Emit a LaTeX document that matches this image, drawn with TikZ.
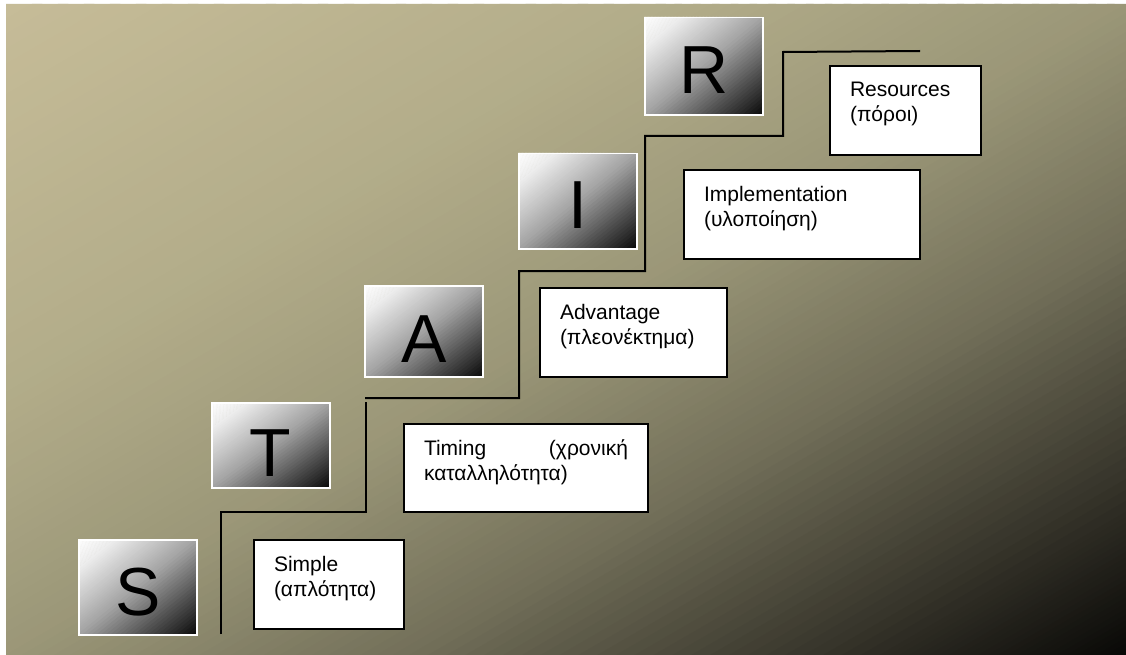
\documentclass[tikz,border=0pt]{standalone}
\usepackage{fontspec}
\setmainfont{Liberation Sans}

% background gradient stops (tan to black, top-left to bottom-right)
\definecolor{bgA}{RGB}{198,188,152}
\definecolor{bgB}{RGB}{179,173,138}
\definecolor{bgC}{RGB}{155,151,120}
\definecolor{bgD}{RGB}{114,111,89}
\definecolor{bgE}{RGB}{45,43,35}
\definecolor{bgF}{RGB}{8,8,6}
% tile gradient stops
\definecolor{tlA}{RGB}{255,255,255}
\definecolor{tlB}{RGB}{238,238,238}
\definecolor{tlC}{RGB}{165,165,165}
\definecolor{tlD}{RGB}{12,12,12}

% diagonal fill of the rectangle at (#1,#2) of size #3 x #4, in thin bands
% parallel to its anti-diagonal; #5 = list of segments t0/t1/colour0/colour1
\newcommand\diagfill[5]{%
  \begin{scope}
    \clip (#1,#2) rectangle ++(#3,#4);
    \foreach \ta/\tb/\ca/\cb in {#5}{
      \foreach \i in {0,...,24}{
        \pgfmathsetmacro\sa{2*(\ta+(\tb-\ta)*\i/25)}
        \pgfmathsetmacro\sb{2*(\ta+(\tb-\ta)*(\i+1.4)/25)}
        \pgfmathsetmacro\pc{100-100*(\i+0.5)/25}
        \fill[\ca!\pc!\cb] ({#1+\sa*#3},#2) -- ({#1+\sb*#3},#2)
          -- (#1,{#2+\sb*#4}) -- (#1,{#2+\sa*#4}) -- cycle;
      }
    }
  \end{scope}}

\tikzset{
  stair/.style={line width=2bp, draw=black},
  letterbox/.style={draw=white, line width=1.5bp, inner sep=0pt,
    anchor=north west, minimum width=118bp,
    font=\fontsize{68bp}{70bp}\selectfont},
  textbox/.style={draw=black, fill=white, line width=2bp, inner xsep=20bp,
    inner ysep=0pt, text height=31bp, text depth=58bp, align=left,
    anchor=north west, font=\fontsize{21bp}{25bp}\selectfont},
}

\begin{document}
\begin{tikzpicture}[x=1bp, y=-1bp]
  \useasboundingbox (0,0) rectangle (1126,655);
  \fill[white] (0,0) rectangle (1126,655);

  % backdrop
  \diagfill{6}{4}{1120}{651}{0/0.29/bgA/bgB, 0.29/0.5/bgB/bgC,
    0.5/0.68/bgC/bgD, 0.68/0.89/bgD/bgE, 0.89/1/bgE/bgF}

  % staircase
  \coordinate (s0) at (221,634);
  \coordinate (s1) at (221,512);
  \coordinate (s2) at (366,512);
  \coordinate (s3) at (366,402);
  \coordinate (s4) at (365,398);
  \coordinate (s5) at (519,398);
  \coordinate (s6) at (519,271);
  \coordinate (s7) at (645,271);
  \coordinate (s8) at (645,136);
  \coordinate (s9) at (783,136);
  \coordinate (s10) at (783,52);
  \coordinate (s11) at (920,51);
  \draw[stair] (s0) -- (s1) -- (s2) -- (s3);
  \draw[stair] (s4) -- (s5) -- (s6) -- (s7) -- (s8) -- (s9) -- (s10) -- (s11);

  % letter tiles: gradient faces, then framed letters on top
  \foreach \x/\y/\h in {78/539/95, 211/402/85, 364/285/91, 518/153/95, 644/17/97}{
    \diagfill{\x}{\y}{118}{\h}{0/0.15/tlA/tlB, 0.15/0.5/tlB/tlC, 0.5/1/tlC/tlD}
  }
  \node[letterbox, text height=76bp, text depth=19bp] (S) at (78,539) {S};
  \node[letterbox, text height=74bp, text depth=11bp] (T) at (211,402) {T};
  \node[letterbox, text height=77bp, text depth=14bp] (A) at (364,285) {A};
  \node[letterbox, text height=75bp, text depth=20bp] (I) at (518,153) {I};
  \node[letterbox, text height=76bp, text depth=21bp] (R) at (644,17) {R};

  % description boxes
  \node[textbox, text width=110bp] (simple) at (253,539) {Simple\\(απλότητα)};
  \node[textbox, text width=204bp, text depth=57bp] (timing) at (403,423)
    {Timing\hfill(χρονική\\καταλληλότητα)};
  \node[textbox, text width=147bp] (advantage) at (539,287) {Advantage\\(πλεονέκτημα)};
  \node[textbox, text width=196bp] (implementation) at (683,169) {Implementation\\(υλοποίηση)};
  \node[textbox, text width=111bp] (resources) at (829,65) {Resources\\(πόροι)};
\end{tikzpicture}
\end{document}
